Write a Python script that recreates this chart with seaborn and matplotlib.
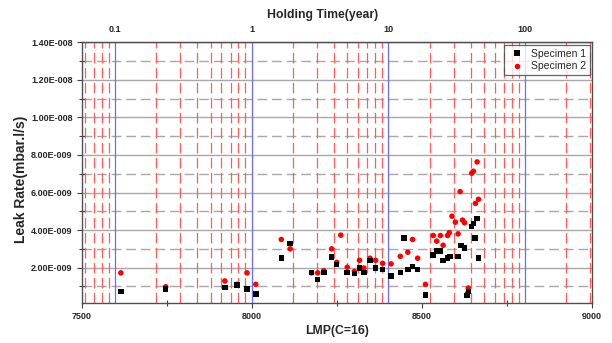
import numpy as np
import pandas as pd
import matplotlib
matplotlib.use("Agg")
import matplotlib.pyplot as plt
import seaborn as sns
from matplotlib.ticker import MultipleLocator, FuncFormatter, NullLocator, FixedLocator

# ---------------- data ----------------
spec1_lmp = [7615, 7747, 7921, 7956, 7986, 8012, 8087, 8113, 8176, 8194, 8212, 8235,
             8250, 8281, 8302, 8317, 8330, 8348, 8364, 8385, 8409, 8437, 8448, 8459,
             8473, 8488, 8511, 8534, 8544, 8555, 8563, 8576, 8584, 8607, 8616, 8626,
             8634, 8637, 8647, 8652, 8657, 8663, 8667]
spec1_leak = [0.73, 0.86, 0.95, 1.07, 0.86, 0.61, 2.50, 3.28, 1.75, 1.36, 1.75, 2.57,
              2.16, 1.75, 1.68, 1.98, 1.75, 2.39, 1.98, 1.89, 1.55, 1.75, 3.59, 1.89,
              2.07, 1.89, 0.54, 2.68, 2.89, 2.89, 2.37, 2.50, 2.60, 2.60, 3.18, 3.05,
              0.52, 0.73, 4.18, 4.34, 3.59, 4.62, 2.52]  # x1e-9

spec2_lmp = [7615, 7747, 7921, 7956, 7986, 8012, 8087, 8113, 8176, 8194, 8212, 8235,
             8250, 8262, 8281, 8302, 8317, 8330, 8348, 8364, 8385, 8410, 8437, 8448,
             8459, 8473, 8488, 8511, 8534, 8544, 8555, 8563, 8576, 8581, 8589, 8599,
             8607, 8613, 8620, 8626, 8634, 8637, 8647, 8652, 8658, 8663, 8667]
spec2_leak = [1.72, 0.98, 1.29, 1.11, 1.72, 1.11, 3.50, 3.00, 1.72, 1.72, 1.84, 3.00,
              2.28, 3.73, 2.02, 1.80, 2.39, 1.98, 2.50, 2.39, 2.23, 2.20, 2.60, 3.59,
              2.82, 3.50, 2.50, 1.11, 3.71, 3.41, 3.71, 3.19, 3.71, 3.86, 4.74, 4.42,
              3.80, 6.05, 4.53, 4.39, 0.61, 0.91, 7.03, 7.13, 5.42, 7.63, 5.64]  # x1e-9

series_names = ["Specimen 1", "Specimen 2"]
top_ticks = [0.1, 1, 10, 100]
top_tick_labels = ["0.1", "1", "10", "100"]

# top-axis mapping: LMP at 1 year and LMP per decade of holding time
LMP_AT_1YR = 8000.0
LMP_PER_DECADE = 402.0


def lmp_to_years(l):
    return 10 ** ((np.asarray(l, dtype=float) - LMP_AT_1YR) / LMP_PER_DECADE)


def years_to_lmp(t):
    t = np.clip(np.asarray(t, dtype=float), 1e-12, None)
    return LMP_AT_1YR + LMP_PER_DECADE * np.log10(t)


df = pd.concat([
    pd.DataFrame({"LMP": spec2_lmp, "Leak": np.array(spec2_leak) * 1e-9, "Specimen": series_names[1]}),
    pd.DataFrame({"LMP": spec1_lmp, "Leak": np.array(spec1_leak) * 1e-9, "Specimen": series_names[0]}),
], ignore_index=True)

# ---------------- figure ----------------
sns.set_style("white")
plt.rcParams["font.family"] = ["Liberation Sans", "DejaVu Sans"]

fig = plt.figure(figsize=(6.12, 3.43), dpi=100)
ax = fig.add_axes([81.7 / 612, 1 - 303.3 / 343, 510 / 612, 261 / 343])

sns.scatterplot(data=df, x="LMP", y="Leak", hue="Specimen", style="Specimen",
                hue_order=series_names, style_order=series_names,
                palette={series_names[0]: "black", series_names[1]: "#ff0000"},
                markers={series_names[0]: "s", series_names[1]: "o"},
                s=16, linewidth=0, ax=ax, zorder=5)

ax.set_xlim(7500, 9000)
ax.set_ylim(1e-10, 1.4e-8)

# y ticks and horizontal grid
ax.yaxis.set_major_locator(MultipleLocator(2e-9))
ax.yaxis.set_minor_locator(MultipleLocator(1e-9))


def sci_fmt(v, pos):
    if v == 0:
        return "0"
    e = int(np.floor(np.log10(abs(v)) + 1e-9))
    m = v / 10 ** e
    return f"{m:.2f}E{'-' if e < 0 else '+'}{abs(e):03d}"


ax.yaxis.set_major_formatter(FuncFormatter(sci_fmt))
ax.grid(which="major", axis="y", color="#a8a8a8", lw=1.0, ls="-", zorder=1)
ax.grid(which="minor", axis="y", color="#a8a8a8", lw=1.0, ls=(0, (7, 3.5)), zorder=1)
ax.grid(which="both", axis="x", visible=False)

# x ticks
ax.xaxis.set_major_locator(MultipleLocator(500))
ax.xaxis.set_minor_locator(MultipleLocator(250))
ax.xaxis.set_major_formatter(FuncFormatter(lambda v, p: f"{v:.0f}"))

# vertical grid from the holding-time (log) axis
xmin, xmax = ax.get_xlim()
for dec in [0.01, 0.1, 1, 10, 100, 1000]:
    xd = years_to_lmp(dec)
    if xmin < xd < xmax:
        ax.axvline(xd, color="#6b6bff", lw=0.9, zorder=2)
    for k in range(2, 10):
        xk = years_to_lmp(k * dec)
        if xmin < xk < xmax:
            ax.axvline(xk, color="#ff5c5c", lw=0.9, ls=(0, (8.5, 3.5)), zorder=2)

ax.tick_params(axis="both", which="major", direction="out", length=3.5, width=0.8,
               color="#404040", labelsize=6.5, pad=3, left=True, bottom=True)
ax.tick_params(axis="both", which="minor", direction="inout", length=4, width=0.8,
               color="#404040", left=True, bottom=True)
for lab in ax.get_xticklabels() + ax.get_yticklabels():
    lab.set_fontweight("bold")

for sp in ax.spines.values():
    sp.set_color("#505050")
    sp.set_linewidth(1.0)

ax.set_xlabel("LMP(C=16)", fontsize=8.8, fontweight="bold")
ax.xaxis.set_label_coords(0.5, -0.083)
ax.set_ylabel("Leak Rate(mbar.l/s)", fontsize=10, fontweight="bold", va="center")
ax.yaxis.set_label_coords(-0.119, 0.476)

# top secondary axis (holding time, years)
secax = ax.secondary_xaxis("top", functions=(lmp_to_years, years_to_lmp))
secax.xaxis.set_major_locator(FixedLocator(top_ticks))
secax.xaxis.set_major_formatter(FuncFormatter(
    lambda v, p: top_tick_labels[top_ticks.index(min(top_ticks, key=lambda t: abs(t - v)))]))
secax.xaxis.set_minor_locator(NullLocator())
secax.tick_params(axis="x", length=0, labelsize=6.5, pad=6)
for lab in secax.get_xticklabels():
    lab.set_fontweight("bold")
secax.set_xlabel("Holding Time(year)", fontsize=8.8, fontweight="bold", labelpad=5)
secax.xaxis.label.set_x((322.5 - 81.7) / 510)
secax.spines["top"].set_color("#505050")

# legend
handles, labels = ax.get_legend_handles_labels()
leg = ax.legend(handles, labels, loc="upper right", bbox_to_anchor=(0.9965, 0.99),
                frameon=True, fancybox=False, fontsize=7.5, handlelength=1.8,
                handletextpad=0.5, borderpad=0.35, labelspacing=0.25,
                borderaxespad=0.0, markerscale=1.0)
leg.get_frame().set_edgecolor("#404040")
leg.get_frame().set_linewidth(0.9)
leg.set_zorder(10)

fig.savefig("out.png", dpi=100)
